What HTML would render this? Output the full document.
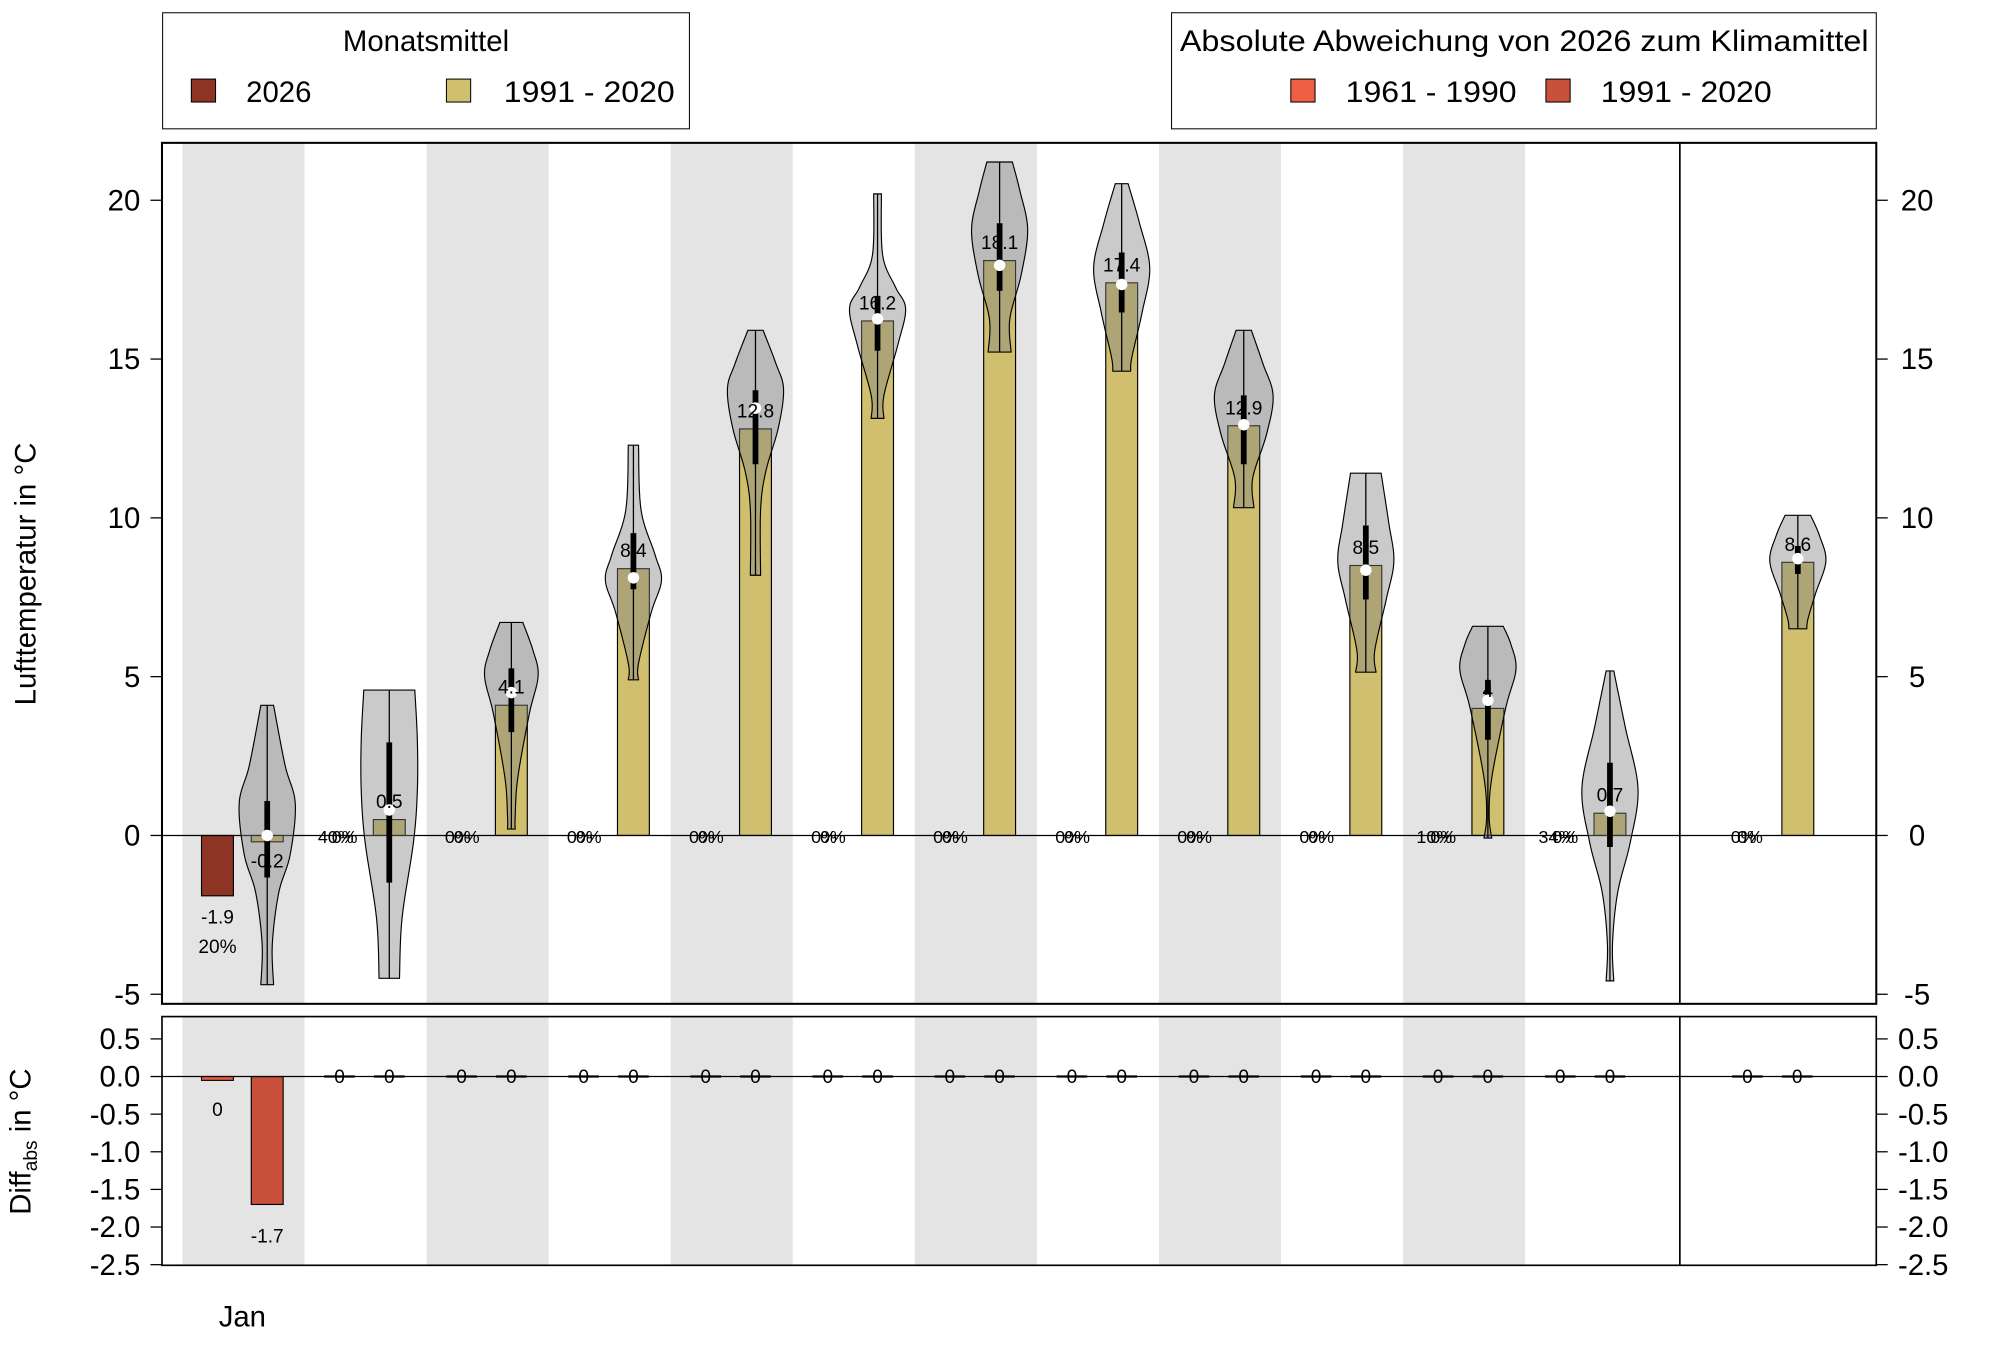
<!DOCTYPE html>
<html><head><meta charset="utf-8"><style>
html,body{margin:0;padding:0;background:#fff;}
svg{display:block;font-family:"Liberation Sans",Arial,sans-serif;}
</style></head><body>
<svg id="s" width="2000" height="1350" viewBox="0 0 1568 1058.4" xmlns="http://www.w3.org/2000/svg">
<rect x="0" y="0" width="1568" height="1059" fill="#fff"/>
<g id="bands"></g>
<g id="content"></g>
<rect x="127.5" y="10" width="413" height="91" fill="#fff" stroke="#000" stroke-width="0.8"/>
<text x="334" y="40" font-size="23" text-anchor="middle">Monatsmittel</text>
<rect x="150" y="62" width="19" height="18" fill="#8E3425" stroke="#000" stroke-width="0.8"/>
<text x="193" y="80" font-size="23">2026</text>
<rect x="350" y="62" width="19" height="18" fill="#CFBF6E" stroke="#000" stroke-width="0.8"/>
<text x="395" y="80" font-size="23" textLength="134" lengthAdjust="spacingAndGlyphs">1991 - 2020</text>
<rect x="918.5" y="10" width="552.5" height="91" fill="#fff" stroke="#000" stroke-width="0.8"/>
<text x="1195" y="40" font-size="23" text-anchor="middle" textLength="540" lengthAdjust="spacingAndGlyphs">Absolute Abweichung von 2026 zum Klimamittel</text>
<rect x="1012" y="62" width="19" height="18" fill="#EE5E42" stroke="#000" stroke-width="0.8"/>
<text x="1055" y="80" font-size="23" textLength="134" lengthAdjust="spacingAndGlyphs">1961 - 1990</text>
<rect x="1212" y="62" width="19" height="18" fill="#C9503A" stroke="#000" stroke-width="0.8"/>
<text x="1255" y="80" font-size="23" textLength="134" lengthAdjust="spacingAndGlyphs">1991 - 2020</text>
<text transform="translate(28,450) rotate(-90)" font-size="23" text-anchor="middle">Lufttemperatur in °C</text>
<text transform="translate(24,895) rotate(-90)" font-size="23" text-anchor="middle">Diff<tspan font-size="15" dy="5">abs</tspan><tspan dy="-5"> in °C</tspan></text>
<text x="190" y="1047" font-size="23" text-anchor="middle" dy="-7">Jan</text>
</svg>
<script>
const NS="http://www.w3.org/2000/svg";
const bands=document.getElementById('bands'), C=document.getElementById('content');
function el(tag,attrs,parent,txt){const e=document.createElementNS(NS,tag);for(const k in attrs)e.setAttribute(k,attrs[k]);if(txt!==undefined)e.textContent=txt;(parent||C).appendChild(e);return e;}
const L=127,R=1471,T=112,B=787,T2=797,B2=992,SEP=1317;
const y0=655,k=24.9; const Y=v=>y0-v*k;
const z0=844,k2=59; const Z=v=>z0-v*k2;
const step=95.7;
for(let i=0;i<12;i+=2){const x=143+i*step;el('rect',{x:x,y:T,width:95.7,height:B-T,fill:'#E4E4E4'},bands);el('rect',{x:x,y:T2,width:95.7,height:B2-T2,fill:'#E4E4E4'},bands);}
const clim=[-0.2,0.5,4.1,8.4,12.8,16.2,18.1,17.4,12.9,8.5,4,0.7];
const cl=['-0.2','0.5','4.1','8.4','12.8','16.2','18.1','17.4','12.9','8.5','4','0.7'];
const V=[
[553,5,[[600,14],[630,22],[670,18],[700,9],[740,4]],772,5,628,688,655],
[541,20,[[580,22],[620,22],[660,19],[720,10]],767,8,582,692,635],
[488,9,[[510,17],[530,21],[560,14],[610,5],[640,3]],650,3,524,574,543],
[349,4,[[400,6],[435,17],[455,22],[480,14],[520,4]],533,4,418,462,453],
[259,6,[[285,16],[305,22],[335,18],[370,8],[400,4]],451,4,306,364,320],
[152,3,[[200,4],[225,14],[242,22],[270,16],[310,5]],328,5,232,275,250],
[127,10,[[150,16],[180,22],[215,17],[250,8]],276,9,175,228,208],
[144,5,[[175,14],[210,22],[245,16],[280,8]],291,7,198,245,223],
[259,6,[[285,15],[310,23],[340,18],[375,7]],398,8,310,364,333],
[371,12,[[410,18],[440,22],[470,16],[510,7]],527,8,412,470,447],
[491,12,[[505,18],[525,22],[555,14],[610,3],[640,1]],657,3,533,580,549],
[526,3,[[570,12],[618,22],[660,16],[700,6],[740,2]],769,3,598,664,636]
];
const VA=[404,10,[[420,17],[440,22],[465,14],[485,8]],493,7,428,450,438];
function catmull(pts,n){const out=[];for(let i=0;i<pts.length-1;i++){const p0=pts[Math.max(0,i-1)],p1=pts[i],p2=pts[i+1],p3=pts[Math.min(pts.length-1,i+2)];for(let t=0;t<n;t++){const s=t/n,s2=s*s,s3=s2*s;const f=j=>0.5*((2*p1[j])+(-p0[j]+p2[j])*s+(2*p0[j]-5*p1[j]+4*p2[j]-p3[j])*s2+(-p0[j]+3*p1[j]-3*p2[j]+p3[j])*s3);out.push([f(0),Math.max(0.8,f(1))]);}}out.push(pts[pts.length-1]);return out;}
function violin(cx,v){const pts=[[v[0],v[1]]].concat(v[2]).concat([[v[3],v[4]]]);const sm=catmull(pts,10);let d='M'+(cx-v[1])+','+v[0]+' L'+(cx+v[1])+','+v[0];sm.forEach(p=>d+=' L'+(cx+p[1]).toFixed(2)+','+p[0].toFixed(2));d+=' L'+(cx-v[4])+','+v[3];for(let i=sm.length-1;i>=0;i--)d+=' L'+(cx-sm[i][1]).toFixed(2)+','+sm[i][0].toFixed(2);d+=' Z';el('path',{d:d,fill:'#808080','fill-opacity':0.42,stroke:'#000','stroke-width':0.9});el('line',{x1:cx,y1:v[0],x2:cx,y2:v[3],stroke:'#000','stroke-width':1});el('line',{x1:cx,y1:v[5],x2:cx,y2:v[6],stroke:'#000','stroke-width':4.5});el('circle',{cx:cx,cy:v[7],r:4.5,fill:'#fff'});}
function bar(x,v,w,col){const y=Math.min(Y(v),y0),h=Math.abs(Y(v)-y0);el('rect',{x:x,y:y,width:w,height:Math.max(h,0.5),fill:col,stroke:'#000','stroke-width':0.9});}
bar(158,-1.9,25,'#8E3425');
el('text',{x:170.5,y:724,'font-size':15,'text-anchor':'middle'},C,'-1.9');
el('text',{x:170.5,y:747,'font-size':15,'text-anchor':'middle'},C,'20%');
for(let i=0;i<12;i++){const x=197+i*step;bar(x,clim[i],25,'#CFBF6E');}
bar(1397,8.6,25,'#CFBF6E');
el('line',{x1:L,y1:y0,x2:R,y2:y0,stroke:'#000','stroke-width':1});
for(let i=0;i<12;i++){violin(209.5+i*step,V[i]);}
violin(1409.5,VA);
for(let i=0;i<12;i++){const cx=209.5+i*step;const ly=clim[i]<0?Y(clim[i])+20:Y(clim[i])-9;el('text',{x:cx,y:ly,'font-size':15,'text-anchor':'middle'},C,cl[i]);}
el('text',{x:1409.5,y:Y(8.6)-9,'font-size':15,'text-anchor':'middle'},C,'8.6');
const pl=[null,['40%','0%'],['0%','0%'],['0%','0%'],['0%','0%'],['0%','0%'],['0%','0%'],['0%','0%'],['0%','0%'],['0%','0%'],['10%','0%'],['34%','0%']];
for(let i=1;i<12;i++){const cx=170.5+i*step;el('text',{x:cx-3,y:661,'font-size':14,'text-anchor':'middle'},C,pl[i][0]);el('text',{x:cx+4,y:661,'font-size':14,'text-anchor':'middle'},C,pl[i][1]);}
el('text',{x:1367,y:661,'font-size':14,'text-anchor':'middle'},C,'0%');el('text',{x:1372,y:661,'font-size':14,'text-anchor':'middle'},C,'0%');
el('rect',{x:L,y:T,width:R-L,height:B-T,fill:'none',stroke:'#000','stroke-width':1.6});
el('line',{x1:SEP,y1:T,x2:SEP,y2:B,stroke:'#000','stroke-width':1.3});
[20,15,10,5,0,-5].forEach(v=>{const y=Y(v);el('line',{x1:L-9,y1:y,x2:L,y2:y,stroke:'#000','stroke-width':1});el('line',{x1:R,y1:y,x2:R+9,y2:y,stroke:'#000','stroke-width':1});el('text',{x:110,y:y+8,'font-size':23,'text-anchor':'end'},C,String(v));el('text',{x:1503,y:y+8,'font-size':23,'text-anchor':'middle'},C,String(v));});
el('rect',{x:158,y:z0,width:25,height:3,fill:'#EE5E42',stroke:'#000','stroke-width':0.9});
el('rect',{x:197,y:z0,width:25,height:1.7*k2,fill:'#C9503A',stroke:'#000','stroke-width':0.9});
el('line',{x1:L,y1:z0,x2:R,y2:z0,stroke:'#000','stroke-width':1});
el('text',{x:170.5,y:875,'font-size':15,'text-anchor':'middle'},C,'0');
el('text',{x:209.5,y:974,'font-size':15,'text-anchor':'middle'},C,'-1.7');
for(let i=1;i<12;i++){[170.5+i*step,209.5+i*step].forEach(cx=>{el('line',{x1:cx-12,y1:z0,x2:cx+12,y2:z0,stroke:'#000','stroke-width':1.8});el('text',{x:cx,y:z0+5,'font-size':15,'text-anchor':'middle'},C,'0');});}
[1370,1409].forEach(cx=>{el('line',{x1:cx-12,y1:z0,x2:cx+12,y2:z0,stroke:'#000','stroke-width':1.8});el('text',{x:cx,y:z0+5,'font-size':15,'text-anchor':'middle'},C,'0');});
el('rect',{x:L,y:T2,width:R-L,height:B2-T2,fill:'none',stroke:'#000','stroke-width':1.3});
el('line',{x1:SEP,y1:T2,x2:SEP,y2:B2,stroke:'#000','stroke-width':1.3});
[0.5,0,-0.5,-1,-1.5,-2,-2.5].forEach(v=>{const y=Z(v);const s=v.toFixed(1);el('line',{x1:L-9,y1:y,x2:L,y2:y,stroke:'#000','stroke-width':1});el('line',{x1:R,y1:y,x2:R+9,y2:y,stroke:'#000','stroke-width':1});el('text',{x:110,y:y+8,'font-size':23,'text-anchor':'end'},C,s);el('text',{x:1488,y:y+8,'font-size':23,'text-anchor':'start'},C,s);});
</script>
</body></html>
